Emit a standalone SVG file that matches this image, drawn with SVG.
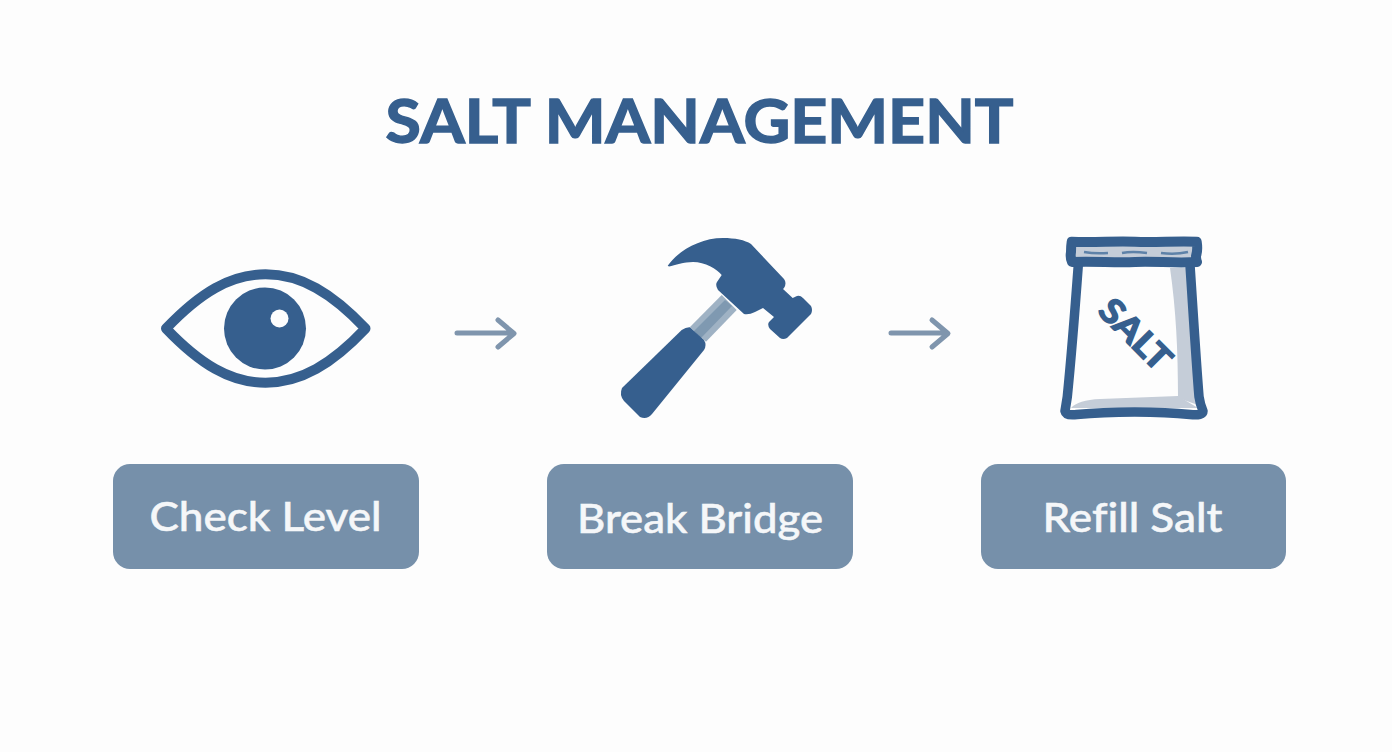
<svg xmlns="http://www.w3.org/2000/svg" width="1392" height="752" viewBox="0 0 1392 752">
<defs>
<style>
.ink{fill:#365f8e}
.line{fill:none;stroke:#365f8e;stroke-linejoin:round;stroke-linecap:round}
.box{fill:#7690aa}
.lbl{font-family:"Lato","Open Sans","Liberation Sans",sans-serif;font-size:40px;font-weight:500;fill:#f5f7f9;stroke:#f5f7f9;stroke-width:.5px;text-anchor:middle;font-variant-ligatures:none}
.arrow{fill:none;stroke:#7f95ad;stroke-width:5;stroke-linecap:round;stroke-linejoin:round}
</style>
</defs>
<rect width="1392" height="752" fill="#fdfdfd"/>
<text id="title" x="699.500" y="143" text-anchor="middle" textLength="628" lengthAdjust="spacingAndGlyphs" font-family="Lato,'Open Sans','Liberation Sans',sans-serif" font-size="62" font-weight="700" fill="#365f8e" stroke="#365f8e" stroke-width="1.500">SALT MANAGEMENT</text>
<g id="connectors">
<path class="arrow" d="M457 333H513M498 320L514 333.500L498 347"/>
<path class="arrow" d="M891 333H947M932 320L948 333.500L932 347"/>
</g>
<g id="check-level">
<path class="line" stroke-width="10" d="M166 328.500C200 293 230 274.300 265.500 274.300C301 274.300 332 293 365.500 328.500C332 364 301 382.700 265.500 382.700C230 382.700 200 364 166 328.500Z"/>
<circle class="ink" cx="265" cy="328.500" r="41"/>
<circle cx="279.500" cy="318.500" r="9" fill="#fdfdfd"/>
<rect class="box" x="113" y="464" width="306" height="105" rx="17"/>
<text class="lbl" x="265.500" y="531" textLength="232" lengthAdjust="spacingAndGlyphs">Check Level</text>
</g>
<g id="break-bridge">
<path fill="#9fb2c4" d="M721.700 295L736.700 310L706 341.700L690 327Z"/>
<path fill="#7f99b1" d="M725 300L732 306L701 338L694 331Z"/>
<path class="ink" d="M667.700 265.700C678 251 700 238 723 238C735 238 745 240 751 244L784 279Q787 283 784 288L783 289L792.700 298L797 296Q800 295 803 298L811 306Q813 310 811 314L787 338Q783 340 780 338L770 329Q767 325 769 322L774 317L763 308L755 312Q749 315 744 314L718 290Q715 285 717 282L721.700 275C717 269 705 262 693 262C684 262 675 265 669 266.500Z"/>
<path class="ink" d="M681.700 330Q686 327 690 327.300L704 340Q707 345 704 350L652 414Q647 420 640 417L624 401Q619 395 622 388Z"/>
<rect class="box" x="547" y="464" width="306" height="105" rx="17"/>
<text class="lbl" x="700" y="533" textLength="246" lengthAdjust="spacingAndGlyphs">Break Bridge</text>
</g>
<g id="refill-salt">
<path fill="#c5cdd8" d="M1170 268L1188 268L1198 405L1178 398C1178 350 1176 310 1170 268Z"/>
<path fill="#c5cdd8" d="M1071 408Q1078 400 1100 399L1178 396L1198 408L1130 408Z"/>
<path class="line" stroke-width="9.500" d="M1078.300 265C1075 310 1071 360 1067.300 396.700Q1066 405 1065 411Q1066 416 1077 414.500C1110 411 1160 411 1190 414.500Q1203 416 1203 411Q1200 404 1199 396.700C1196 360 1193 310 1190 265"/>
<rect x="1075" y="246" width="120" height="15" fill="#c5cdd8"/>
<path class="line" stroke-width="10" d="M1071.700 241.700C1095 243 1115 240.500 1135 241.700C1155 243 1175 240.500 1196.700 241.700Q1198 250 1196 256Q1196 260 1197 262C1175 263.500 1155 261 1135 262C1115 263 1095 261 1072 262Q1070 258 1071 252Q1071 246 1071.700 241.700Z"/>
<path fill="none" stroke="#5e82a8" stroke-width="2.500" d="M1084 252Q1095 254 1108 253M1122 253Q1132 251 1147 253M1161 253Q1175 255 1188 252"/>
<text text-anchor="middle" transform="translate(1127 343) rotate(45)" font-family="Lato,'Open Sans','Liberation Sans',sans-serif" font-size="34" font-weight="700" fill="#365f8e" stroke="#365f8e" stroke-width="1.500" textLength="86" lengthAdjust="spacingAndGlyphs">SALT</text>
<rect class="box" x="981" y="464" width="305" height="105" rx="17"/>
<text class="lbl" x="1132.500" y="532" textLength="180" lengthAdjust="spacingAndGlyphs">Refill Salt</text>
</g>
</svg>
